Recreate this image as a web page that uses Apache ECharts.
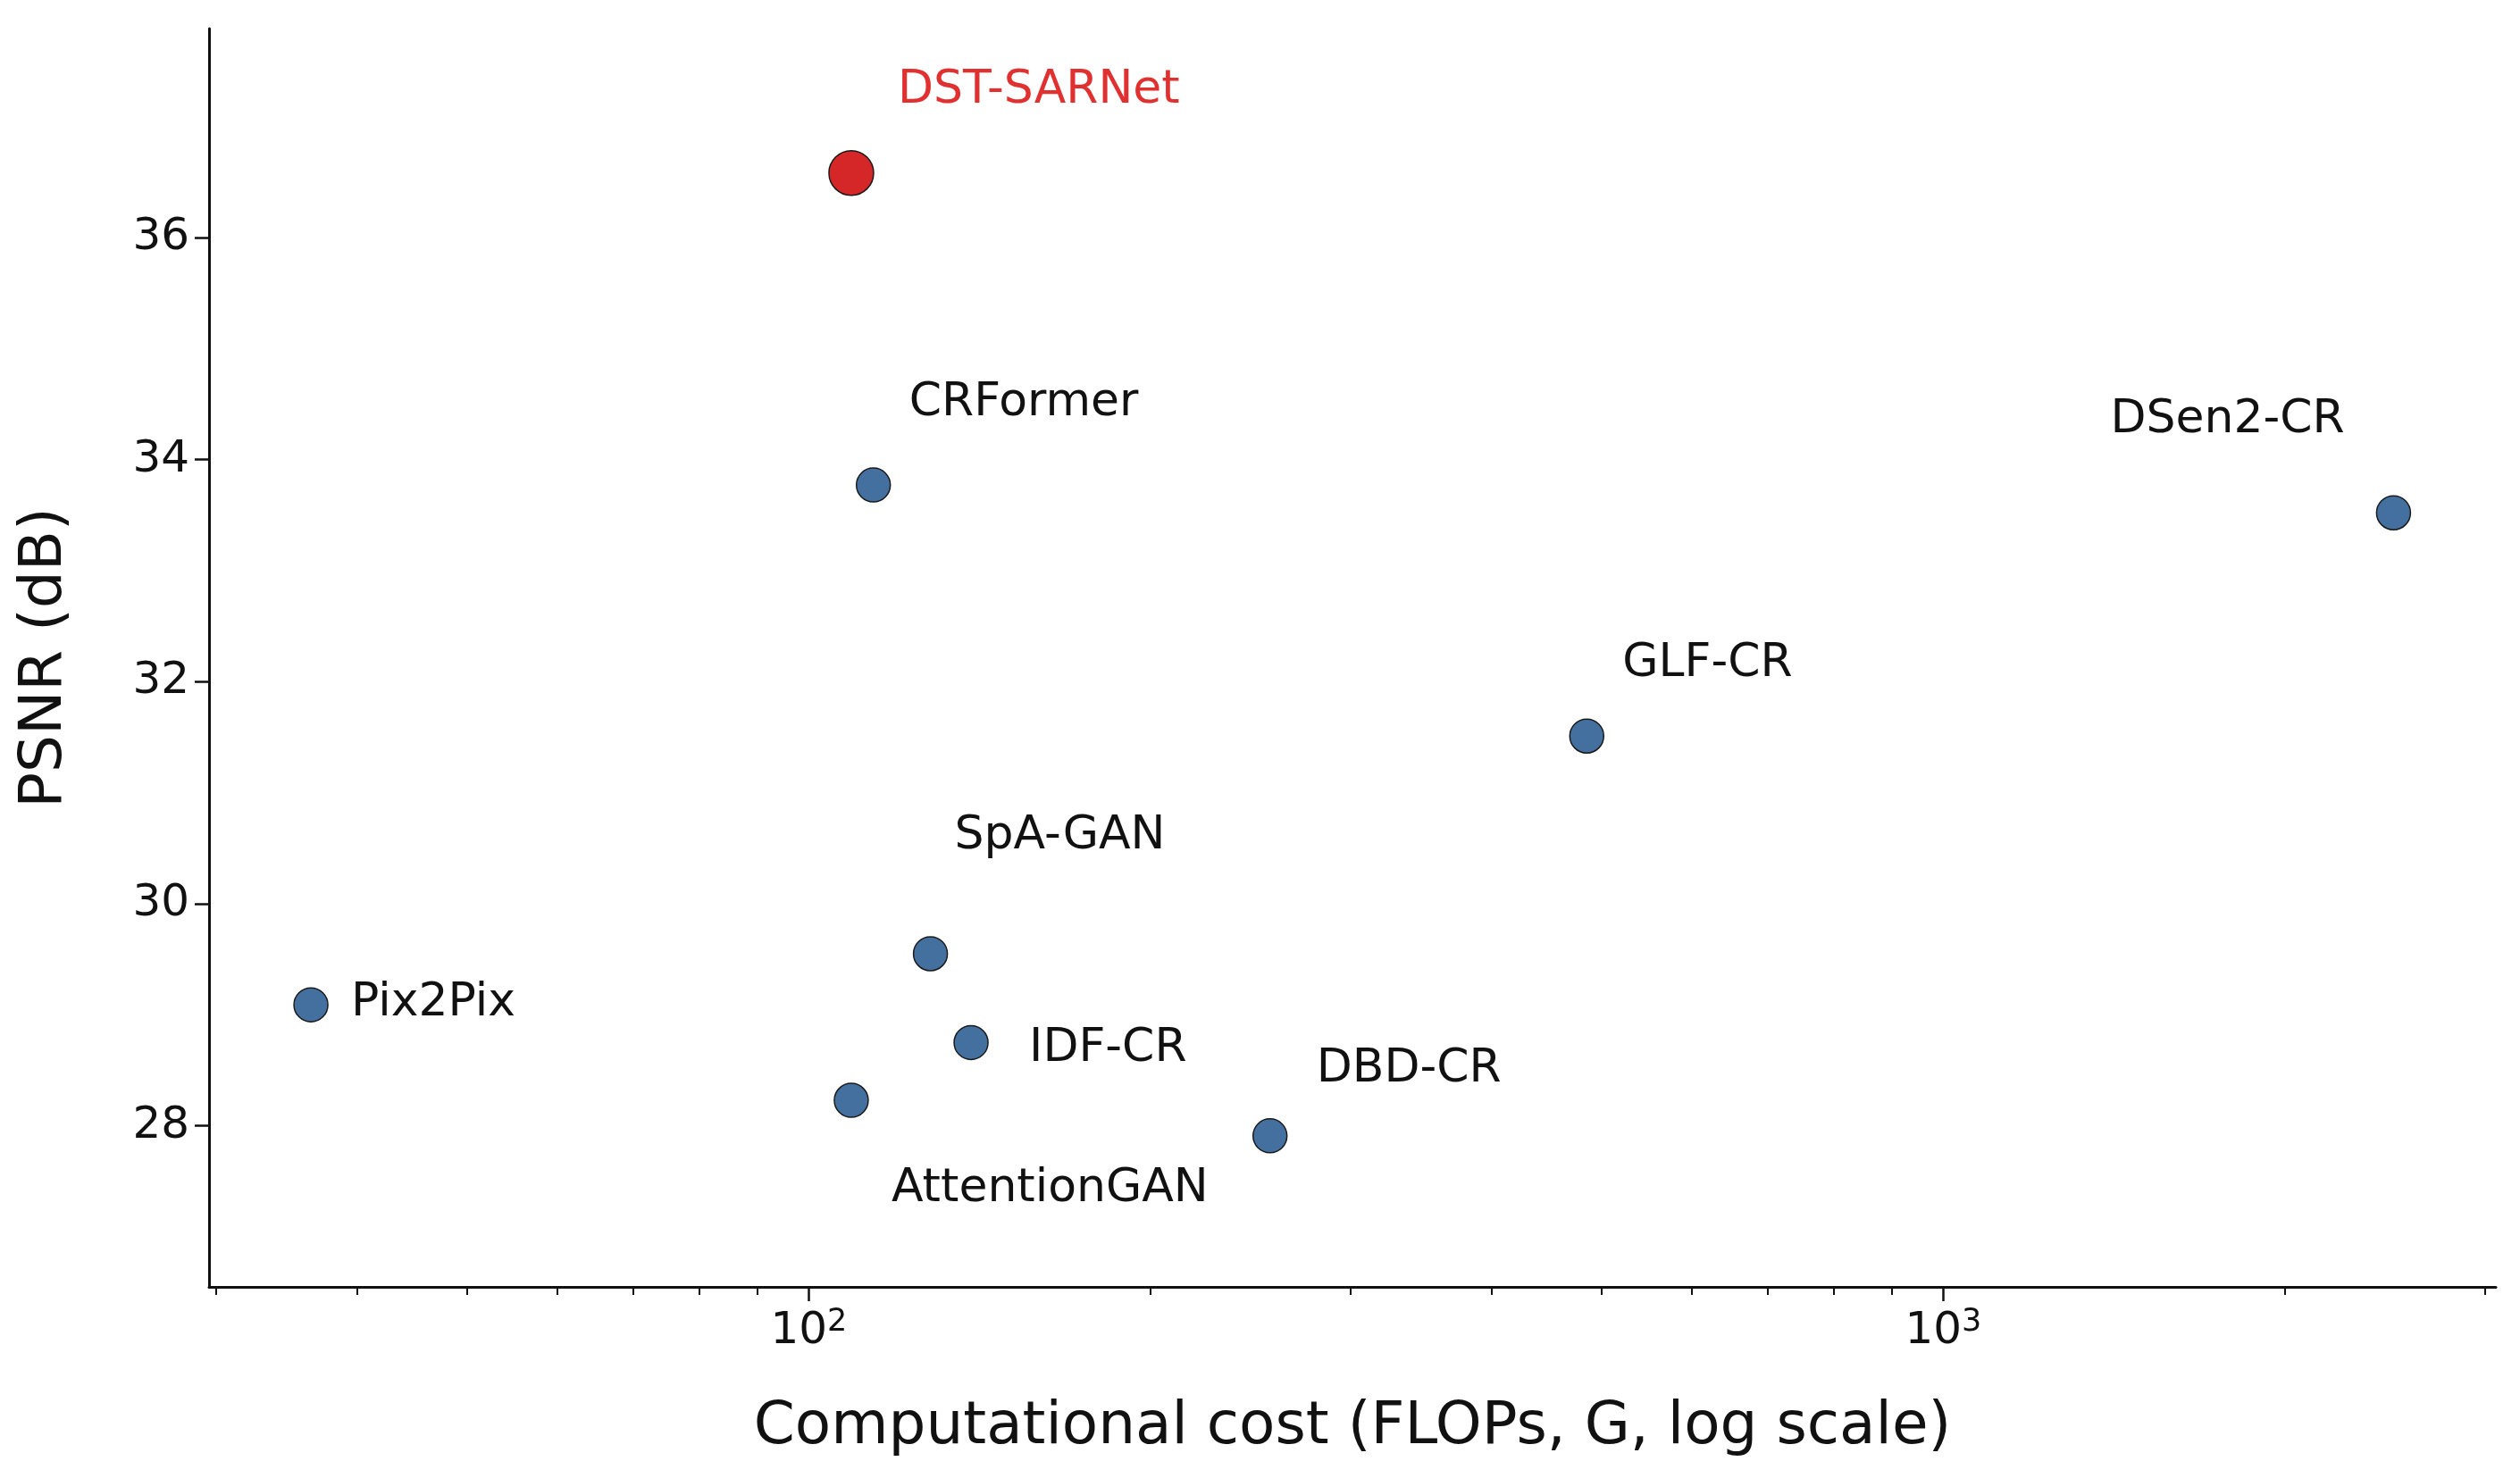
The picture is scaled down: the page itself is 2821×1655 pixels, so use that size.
<!DOCTYPE html>
<html>
<head>
<meta charset="utf-8">
<script src="https://cdn.jsdelivr.net/npm/echarts@6/dist/echarts.min.js"></script>
<style>html,body{margin:0;padding:0;background:#fff}#main{width:2821px;height:1655px}</style>
</head>
<body>
<div id="main"></div>
<script>
// values
var methods = ['DST-SARNet', 'CRFormer', 'DSen2-CR', 'GLF-CR', 'SpA-GAN', 'Pix2Pix', 'IDF-CR', 'AttentionGAN', 'DBD-CR']
var flops = [109, 114, 2494, 485, 128, 36.4, 139, 109, 255]
var psnr = [36.58, 33.77, 33.52, 31.51, 29.55, 29.09, 28.75, 28.23, 27.91]
var yTicks = [28, 30, 32, 34, 36]
var xMajor = [100, 1000]
var xMinor = [30, 40, 50, 60, 70, 80, 90, 200, 300, 400, 500, 600, 700, 800, 900, 2000, 3000]

// label offsets (px) relative to the marker centre
var offs = [[52, -92], [40, -92], [-317, -104], [40, -81], [27, -131], [45, -2], [65, 7], [45, 99], [52, -74]]

var xMin = 29.6, xMax = 3070, yMin = 26.55, yMax = 37.88
var font = 'DejaVu Sans'

var pts = methods.map(function (m, i) {
  var hero = i === 0
  return {
    name: m,
    value: [flops[i], psnr[i]],
    symbolSize: hero ? 50 : 38,
    itemStyle: { color: hero ? '#d62728' : '#44709f', borderColor: '#1a1a1a', borderWidth: 1.5, opacity: 1 },
    label: {
      show: true, position: 'inside', align: 'left', verticalAlign: 'middle',
      offset: offs[i], formatter: m, fontSize: 52, fontFamily: font,
      color: hero ? '#e03030' : '#111111'
    }
  }
})

var chart = echarts.init(document.getElementById('main'))
chart.setOption({
  animation: false,
  grid: { left: 234, right: 27, top: 32, bottom: 214 },
  xAxis: [{
    type: 'log', min: xMin, max: xMax,
    name: 'Computational cost (FLOPs, G, log scale)', nameLocation: 'middle', nameGap: 125,
    nameTextStyle: { fontSize: 66, fontFamily: font, color: '#111' },
    axisLine: { lineStyle: { color: '#111', width: 3 } },
    axisTick: { customValues: xMajor, length: 16, lineStyle: { color: '#111', width: 2.5 } },
    axisLabel: {
      customValues: xMajor, fontFamily: font, color: '#111', margin: 22,
      formatter: function (v) { return '{b|10}{s|' + Math.round(Math.log10(v)) + '}' },
      rich: { b: { fontSize: 50, fontFamily: font, color: '#111' }, s: { fontSize: 35, fontFamily: font, color: '#111', verticalAlign: 'top', padding: [0, 0, 22, 0] } }
    },
    splitLine: { show: false }
  }, {
    type: 'log', min: xMin, max: xMax, position: 'bottom',
    axisLine: { show: false },
    axisTick: { customValues: xMinor, length: 9, lineStyle: { color: '#111', width: 2 } },
    axisLabel: { show: false }, splitLine: { show: false }
  }],
  yAxis: {
    type: 'value', min: yMin, max: yMax,
    name: 'PSNR (dB)', nameLocation: 'middle', nameGap: 150,
    nameTextStyle: { fontSize: 66, fontFamily: font, color: '#111' },
    axisLine: { show: true, lineStyle: { color: '#111', width: 3 } },
    axisTick: { show: true, customValues: yTicks, length: 16, lineStyle: { color: '#111', width: 2.5 } },
    axisLabel: { customValues: yTicks, fontSize: 50, fontFamily: font, color: '#111', margin: 22 },
    splitLine: { show: false }
  },
  series: [{ type: 'scatter', data: pts }]
})
</script>
</body>
</html>
